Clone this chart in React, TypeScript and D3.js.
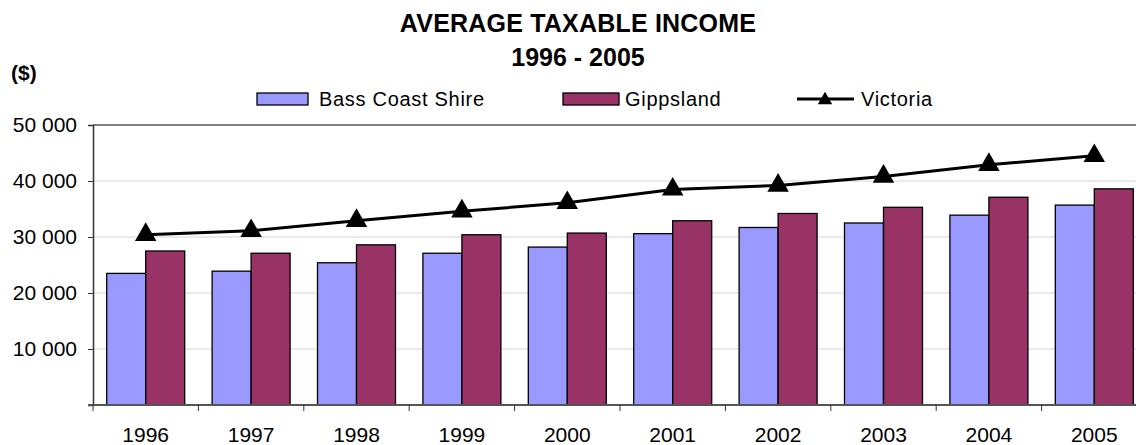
import React, { useEffect, useRef } from 'react';
import * as d3 from 'd3';

const years = ['1996', '1997', '1998', '1999', '2000', '2001', '2002', '2003', '2004', '2005'];
const bassCoast = [23500, 23900, 25400, 27100, 28200, 30600, 31700, 32500, 33900, 35700];
const gippsland = [27500, 27100, 28600, 30400, 30700, 32900, 34200, 35300, 37100, 38600];
const victoria = [30400, 31100, 32900, 34600, 36100, 38500, 39200, 40800, 42900, 44500];
const yTicks = [0, 10000, 20000, 30000, 40000, 50000];

const width = 1136;
const height = 445;
const font = 'Liberation Sans, Arial, sans-serif';

const fmt = (v: number) => (v === 0 ? '' : d3.format(',')(v).replace(',', ' '));

export default function App() {
  const ref = useRef<SVGSVGElement>(null);

  useEffect(() => {
    document.body.style.margin = '0';
    document.body.style.overflow = 'hidden';

    const margin = { top: 125, left: 93, bottom: 40, right: -11 };
    const iwidth = width - margin.left - margin.right;
    const iheight = height - margin.top - margin.bottom;

    const svg = d3.select(ref.current);
    svg.selectAll('*').remove();
    svg.attr('width', width).attr('height', height).style('font-family', font);

    // titles
    svg.append('text').attr('x', 578).attr('y', 32).attr('text-anchor', 'middle')
      .style('font-size', '25px').style('font-weight', 'bold').style('letter-spacing', '0.2px')
      .text('AVERAGE TAXABLE INCOME');
    svg.append('text').attr('x', 578).attr('y', 66).attr('text-anchor', 'middle')
      .style('font-size', '25px').style('font-weight', 'bold').text('1996 - 2005');
    svg.append('text').attr('x', 11).attr('y', 80)
      .style('font-size', '21px').style('font-weight', 'bold').text('($)');

    const g = svg.append('g').attr('transform', `translate(${margin.left},${margin.top})`);

    const y = d3.scaleLinear().domain([0, 50000]).range([iheight, 0]);
    const x = d3.scaleBand().domain(years).range([0, iwidth]).paddingInner(0.26).paddingOuter(0.13);
    const xs = d3.scaleBand().domain(['b', 'g']).range([0, x.bandwidth()]);

    // gridlines
    g.selectAll('line.grid').data(yTicks.filter((t) => t > 0)).enter().append('line')
      .attr('x1', 0).attr('x2', iwidth)
      .attr('y1', (d) => y(d)).attr('y2', (d) => y(d))
      .attr('stroke', (d) => (d === 50000 ? '#808080' : '#d4d4d4'))
      .attr('stroke-width', (d) => (d === 50000 ? 2 : 1));

    // bars
    const series = [
      { key: 'b', values: bassCoast, color: '#9999FF' },
      { key: 'g', values: gippsland, color: '#993366' },
    ];
    series.forEach((s) => {
      g.selectAll(`rect.bar-${s.key}`).data(s.values).enter().append('rect')
        .attr('x', (d, i) => (x(years[i]) as number) + (xs(s.key) as number))
        .attr('y', (d) => y(d))
        .attr('width', xs.bandwidth())
        .attr('height', (d) => iheight - y(d))
        .attr('fill', s.color)
        .attr('stroke', 'black')
        .attr('stroke-width', 1.3);
    });

    // y axis
    const yAxis = g.append('g').call(d3.axisLeft(y).tickValues(yTicks).tickSize(5).tickFormat((d) => fmt(d as number)));
    yAxis.select('.domain').attr('stroke', '#333').attr('stroke-width', 1.5);
    yAxis.selectAll('.tick line').attr('stroke', '#333');
    yAxis.selectAll('text').style('font-size', '21px').style('font-family', font)
      .attr('x', -16).attr('fill', '#000');

    // x axis
    const xg = g.append('g').attr('transform', `translate(0,${iheight})`);
    xg.append('line').attr('x1', -5).attr('x2', iwidth).attr('stroke', '#555').attr('stroke-width', 2);
    const step = x.step();
    xg.selectAll('line.tick').data(d3.range(years.length + 1)).enter().append('line')
      .attr('x1', (i) => i * step).attr('x2', (i) => i * step)
      .attr('y1', 0).attr('y2', 6).attr('stroke', '#333');
    xg.selectAll('text').data(years).enter().append('text')
      .attr('x', (d) => (x(d) as number) + x.bandwidth() / 2)
      .attr('y', 37).attr('text-anchor', 'middle')
      .style('font-size', '21px').text((d) => d);

    // victoria line
    const line = d3.line<number>()
      .x((d, i) => (x(years[i]) as number) + x.bandwidth() / 2)
      .y((d) => y(d));
    g.append('path').datum(victoria).attr('d', line).attr('fill', 'none')
      .attr('stroke', 'black').attr('stroke-width', 3);
    const tri = d3.symbol().type(d3.symbolTriangle).size(200);
    g.selectAll('path.marker').data(victoria).enter().append('path')
      .attr('transform', (d, i) => `translate(${(x(years[i]) as number) + x.bandwidth() / 2},${y(d)})`)
      .attr('d', tri).attr('fill', 'black');

    // legend
    const lg = svg.append('g').attr('transform', 'translate(0,99)');
    const lt = (sel: any) => sel.style('font-size', '20px').style('letter-spacing', '0.7px');
    lg.append('rect').attr('x', 257).attr('y', -6).attr('width', 51).attr('height', 12)
      .attr('fill', '#9999FF').attr('stroke', 'black').attr('stroke-width', 1.3);
    lt(lg.append('text').attr('x', 319).attr('y', 7).text('Bass Coast Shire'));
    lg.append('rect').attr('x', 563).attr('y', -6).attr('width', 56).attr('height', 12)
      .attr('fill', '#993366').attr('stroke', 'black').attr('stroke-width', 1.3);
    lt(lg.append('text').attr('x', 625).attr('y', 7).text('Gippsland'));
    lg.append('line').attr('x1', 797).attr('x2', 854).attr('y1', 0).attr('y2', 0)
      .attr('stroke', 'black').attr('stroke-width', 3);
    lg.append('path').attr('transform', 'translate(825,1)').attr('d', d3.symbol().type(d3.symbolTriangle).size(90)).attr('fill', 'black');
    lt(lg.append('text').attr('x', 861).attr('y', 7).text('Victoria'));
  }, []);

  return (
    <div>
      <svg ref={ref} style={{ display: 'block' }}></svg>
    </div>
  );
}
